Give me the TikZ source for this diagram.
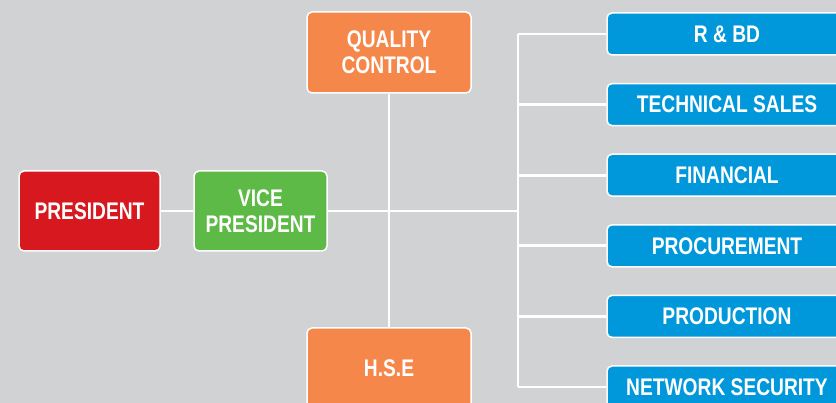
\documentclass[tikz,border=0pt]{standalone}
\usepackage{fontspec}
\setmainfont{Liberation Sans}[FakeStretch=0.80]
\definecolor{bgray}{HTML}{D1D2D4}
\definecolor{pres}{HTML}{D7181F}
\definecolor{vice}{HTML}{5EBA47}
\definecolor{dept}{HTML}{F6874A}
\definecolor{unit}{HTML}{0098DA}
\begin{document}
\begin{tikzpicture}[x=1pt,y=-1pt]
\tikzset{box/.style={draw=white,line width=1.5pt,rounded corners=5pt,text=white,
  font=\bfseries\fontsize{24}{26}\selectfont,align=center,inner sep=0pt}}
\tikzset{unitbox/.style={box,fill=unit,minimum width=240pt,minimum height=42pt}}
\tikzset{link/.style={white,line width=2.8pt}}
\useasboundingbox (0,0) rectangle (836,403);
\fill[bgray] (0,0) rectangle (836,403);
\clip (0,0) rectangle (836,403);
% top of the chart
\node[box,fill=pres,minimum width=141pt,minimum height=80pt] (pres) at (89.5,211) {PRESIDENT};
\node[box,fill=vice,minimum width=133pt,minimum height=80pt] (vp) at (260.5,211) {VICE\\PRESIDENT};
\node[box,fill=dept,minimum width=164pt,minimum height=81pt] (qc) at (389,52.5) {QUALITY\\CONTROL};
\node[box,fill=dept,minimum width=164pt,minimum height=81pt] (hse) at (389,368.5) {H.S.E};
% departments
\node[unitbox] (rbd) at (727,34) {R \& BD};
\node[unitbox] (tsales) at (727,104.6) {TECHNICAL SALES};
\node[unitbox] (fin) at (727,175.2) {FINANCIAL};
\node[unitbox] (proc) at (727,245.8) {PROCUREMENT};
\node[unitbox] (prod) at (727,316.4) {PRODUCTION};
\node[unitbox] (net) at (727,387) {NETWORK SECURITY};
\coordinate (bus) at (518,211);
\draw[link] (pres) -- (vp);
\draw[link] (vp) -- (bus);
\draw[link] (qc) -- (hse);
\draw[link] (bus |- rbd) -- (bus |- net);
\foreach \n in {rbd,tsales,fin,proc,prod,net}
  \draw[link] (bus |- \n) -- (\n.west);
\end{tikzpicture}
\end{document}
